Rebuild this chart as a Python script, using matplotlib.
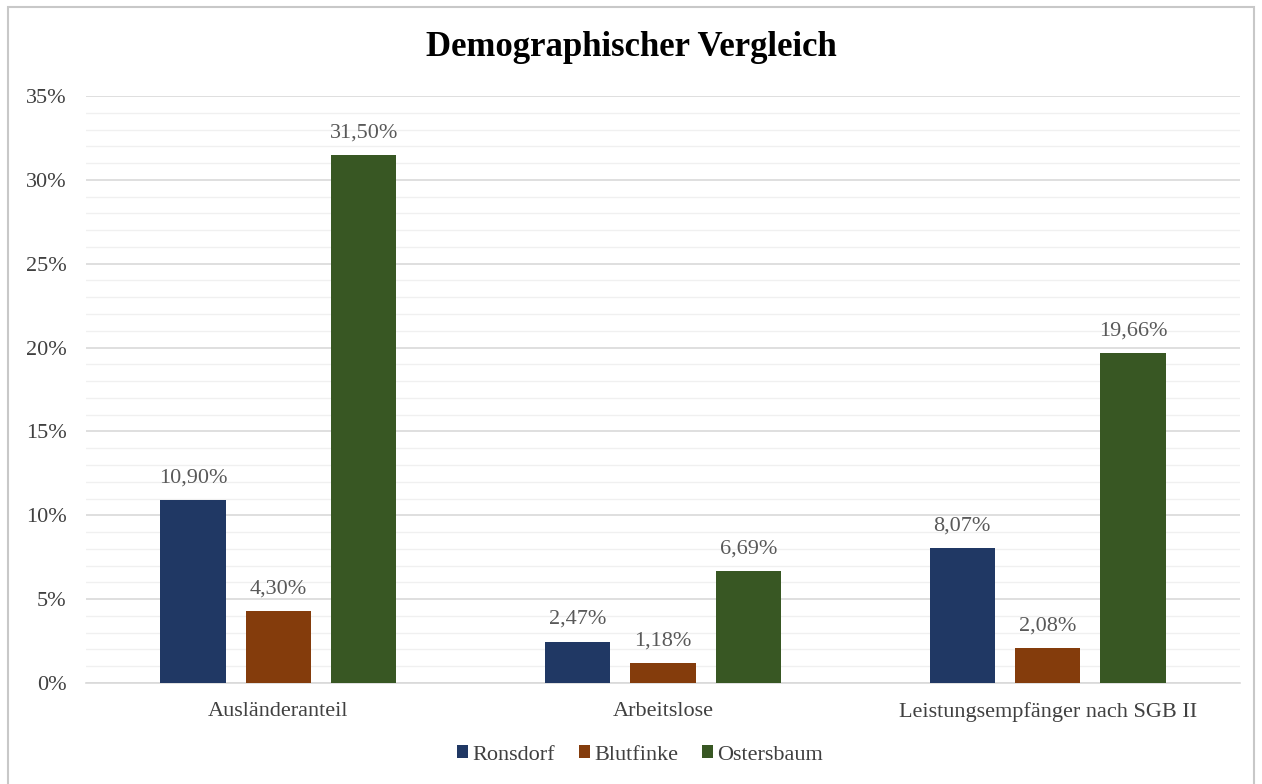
import numpy as np
import matplotlib.pyplot as plt
from matplotlib.patches import Rectangle
from matplotlib.ticker import MultipleLocator, FuncFormatter

# Daten
kategorien = ['Ausländeranteil', 'Arbeitslose', 'Leistungsempfänger nach SGB II']
ronsdorf = [10.90, 2.47, 8.07]
blutfinke = [4.30, 1.18, 2.08]
ostersbaum = [31.50, 6.69, 19.66]
serien = ['Ronsdorf', 'Blutfinke', 'Ostersbaum']
farben = ['#203864', '#843c0c', '#385723']

plt.rcParams['font.family'] = ['Liberation Serif', 'DejaVu Serif']

fig = plt.figure(figsize=(12.62, 7.84), dpi=100)
ax = fig.add_axes([86 / 1262, 1 - 683 / 784, 1154 / 1262, 587 / 784])

# Rahmen um die Grafik
fig.patches.append(Rectangle((8 / 1262, -0.01), 1246 / 1262, 1 - 7 / 784 + 0.01,
                             transform=fig.transFigure, fill=False,
                             edgecolor='#c8c8c8', linewidth=1.5))

x = np.arange(len(kategorien))
breite = 0.17
abstand = 0.222
for i, (werte, name) in enumerate(zip([ronsdorf, blutfinke, ostersbaum], serien)):
    pos = x + (i - 1) * abstand
    ax.bar(pos, werte, breite, color=farben[i], label=name, zorder=3)
    for px, w in zip(pos, werte):
        ax.text(px, w + 0.75, f'{w:.2f}%'.replace('.', ','), ha='center', va='bottom',
                fontsize=16, color='#595959')

ax.set_xlim(-0.5, 2.5)
ax.set_ylim(0, 35)
ax.yaxis.set_major_locator(MultipleLocator(5))
ax.yaxis.set_minor_locator(MultipleLocator(1))
ax.yaxis.set_major_formatter(FuncFormatter(lambda v, p: f'{v:.0f}%'))
ax.grid(axis='y', which='major', color='#d9d9d9', linewidth=1.2, zorder=0)
ax.grid(axis='y', which='minor', color='#f0f0f0', linewidth=1.0, zorder=0)
ax.set_axisbelow(True)

for s in ['top', 'right', 'left']:
    ax.spines[s].set_visible(False)
ax.spines['bottom'].set_color('#d9d9d9')
ax.spines['bottom'].set_linewidth(1.2)

ax.set_xticks(x)
ax.set_xticklabels(kategorien, fontsize=16, color='#404040')
ax.tick_params(axis='x', length=0, pad=14)
ax.tick_params(axis='y', which='both', length=0, labelsize=16, labelcolor='#404040', pad=14)

fig.text(0.5, 1 - 47 / 784, 'Demographischer Vergleich', ha='center', va='center',
         fontsize=25, fontweight='bold', color='black')

leg = fig.legend(loc='center', bbox_to_anchor=(0.5 + 9 / 1262, 1 - 755 / 784), ncol=3,
                 frameon=False, fontsize=16, handlelength=0.5, handleheight=0.5,
                 handletextpad=0.2, columnspacing=1.05)
for t in leg.get_texts():
    t.set_color('#404040')

fig.savefig('out.png', dpi=100)
